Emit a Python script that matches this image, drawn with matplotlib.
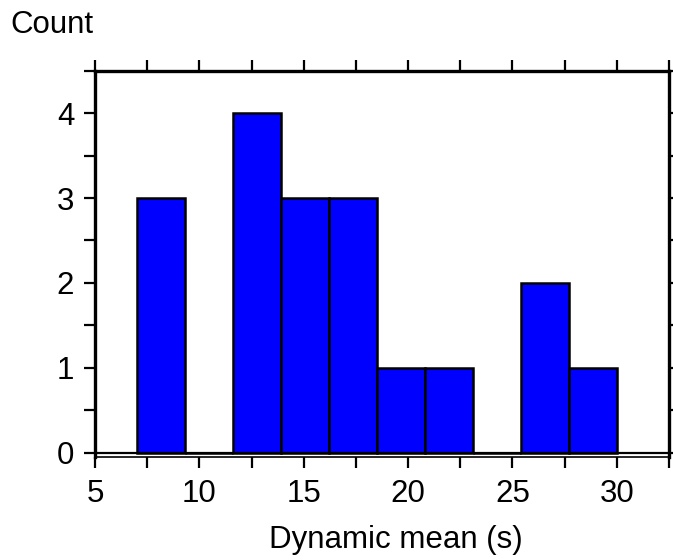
import numpy as np
import matplotlib.pyplot as plt
from matplotlib.ticker import MultipleLocator

plt.rcParams['font.family'] = ['Liberation Sans', 'DejaVu Sans']

# Histogram bins and counts
bin_edges = [7.0, 9.3, 11.6, 13.9, 16.2, 18.5, 20.8, 23.1, 25.4, 27.7, 30.0]
counts = [3, 0, 4, 3, 3, 1, 1, 0, 2, 1]
x_label = 'Dynamic mean (s)'
y_label = 'Count'

if __name__ == "__main__":
    fig = plt.figure(figsize=(6.73, 5.6), dpi=100)
    ax = fig.add_axes([0.1412, 0.184, 0.8528, 0.6898])

    edges = np.array(bin_edges)
    ax.bar(edges[:-1], counts, width=np.diff(edges), align='edge',
           color='#0000ff', edgecolor='black', linewidth=1.8, zorder=2)

    ax.axhline(0, color='black', linewidth=1.6, zorder=3)

    ax.set_xlim(5, 32.5)
    ax.set_ylim(-0.05, 4.5)

    ax.xaxis.set_major_locator(MultipleLocator(5))
    ax.xaxis.set_minor_locator(MultipleLocator(2.5))
    ax.yaxis.set_major_locator(MultipleLocator(1))
    ax.yaxis.set_minor_locator(MultipleLocator(0.5))

    for side in ['left', 'top', 'right']:
        ax.spines[side].set_linewidth(2.4)
    ax.spines['bottom'].set_linewidth(1.2)

    ax.tick_params(which='both', direction='out', length=8, width=1.6,
                   top=True, right=True, labelsize=22.5)
    ax.tick_params(axis='x', pad=8)
    ax.tick_params(axis='y', pad=7)

    fig.text(396 / 673, 1 - 548 / 560, x_label, fontsize=22.5,
             ha='center', va='baseline')
    fig.text(0.016, 1 - 33 / 560, y_label, fontsize=22.5,
             ha='left', va='baseline')

    plt.savefig('out.png', dpi=100)
